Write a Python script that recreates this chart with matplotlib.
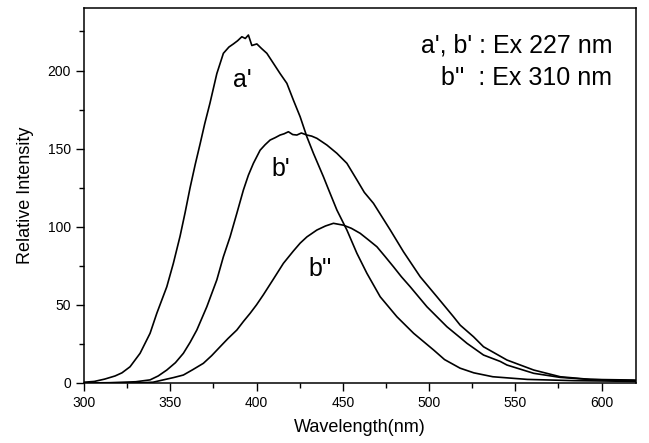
import matplotlib
matplotlib.use("Agg")
import matplotlib.pyplot as plt
from matplotlib.ticker import MultipleLocator

plt.rcParams['font.family'] = ['Liberation Sans', 'DejaVu Sans']

# Curve a' (Ex 227 nm)
a1_x = [300, 306, 312, 318, 322, 326.7, 332.5, 338.3, 342.2, 348, 351.8, 355.7, 358.6, 361.5,
        364.5, 367.3, 370, 373, 377, 380.8, 384, 386.6, 389, 391.5, 393.5, 395.3, 397.3, 400.2,
        403, 406, 409.8, 413.7, 417.6, 421.4, 425.3, 429.2, 433, 438.8, 441.7, 446.6, 452.4,
        458.2, 464, 471.7, 481.4, 491.1, 502.7, 509, 518, 526, 537, 557, 584, 600, 620]
a1_y = [0.5, 1, 2.5, 4.5, 6.5, 10.4, 19, 31.8, 44.6, 61.6, 76.6, 94, 109, 125,
        140, 153, 166, 179, 198, 211, 215, 217, 219, 221.6, 220.5, 222.7, 216, 217,
        214, 211, 204.6, 198, 191.8, 181, 170.4, 157.6, 147, 132, 124, 110.7, 97.9,
        83, 70.2, 55.2, 42.4, 31.8, 21.1, 15, 9.5, 6.5, 4, 2.3, 1.5, 1.3, 1]

# Curve b' (Ex 227 nm)
b1_x = [300, 315, 330, 338.3, 343, 348, 353, 357.6, 361.5, 365.4, 371.2, 377, 380.8, 384.7,
        388.6, 392.4, 395.3, 398.2, 402.1, 405, 407.9, 410.8, 413.7, 416, 418.5, 421, 423.4,
        426, 429.2, 432, 435, 440.8, 446.6, 452.4, 458.2, 462.5, 467.8, 477.5, 485.2, 494.9,
        504.6, 514.2, 518.1, 525.8, 531.6, 545.2, 560.7, 576.1, 593.5, 618.6, 620]
b1_y = [0, 0.2, 0.8, 2, 4.5, 8.3, 13, 19, 26, 33.9, 48.8, 66, 80.8, 93.6,
        108.6, 123.5, 133, 140.6, 149, 152.5, 155.5, 157, 158.7, 159.5, 160.8, 159, 158.7,
        160, 158.7, 158, 156.6, 152.3, 147, 140.6, 130, 122, 115, 98, 84, 68,
        55.2, 42.4, 37, 29.6, 23.2, 14.7, 8.3, 4, 2.3, 1.9, 1.8]

# Curve b'' (Ex 310 nm)
b2_x = [300, 330, 340, 346, 352, 357.6, 363, 369.2, 374, 378.9, 383.5, 388.6, 392.5, 396.3,
        400, 404, 409.8, 415.6, 421.4, 425.3, 429.2, 435, 440, 444.6, 450.4, 455, 460.1, 465,
        469.8, 474.5, 479.4, 484, 489.1, 498.8, 506.5, 510.4, 518.1, 522, 531.6, 541.3, 545.2,
        560.7, 576, 590, 605, 620]
b2_y = [0, 0, 0.5, 2, 3.5, 5.1, 8.5, 12.6, 17.5, 23.2, 28.5, 33.9, 39.5, 44.6,
        50, 56.5, 66.5, 76.6, 84.5, 89.5, 93.5, 97.9, 100.5, 102.2, 101, 99, 95.8, 91.5,
        87.2, 81, 74.4, 68, 61.6, 48.8, 40.3, 36, 29, 25.4, 17.9, 13.8, 11.5,
        6.2, 3.6, 2.5, 1.8, 1.5]

curve_labels = ["a'", "b'", "b''"]
label_pos = [(392, 194), (414, 137), (437, 73)]
legend_lines = ["a', b' : Ex 227 nm", "b''  : Ex 310 nm"]

fig = plt.figure(figsize=(6.49, 4.43), dpi=100)
ax = fig.add_axes([84/649, 1 - 383/443, (636-84)/649, (383-8)/443])

for xs, ys in [(a1_x, a1_y), (b1_x, b1_y), (b2_x, b2_y)]:
    ax.plot(xs, ys, color='black', lw=1.2)

for lab, (lx, ly) in zip(curve_labels, label_pos):
    ax.text(lx, ly, lab, fontsize=18, ha='center', va='center')

ax.text(0.957, 0.901, legend_lines[0], transform=ax.transAxes, fontsize=18,
        ha='right', va='center')
ax.text(0.957, 0.813, legend_lines[1], transform=ax.transAxes, fontsize=18,
        ha='right', va='center')

ax.set_xlim(300, 620)
ax.set_ylim(0, 240)
ax.xaxis.set_major_locator(MultipleLocator(50))
ax.xaxis.set_minor_locator(MultipleLocator(25))
ax.yaxis.set_major_locator(MultipleLocator(50))
ax.yaxis.set_minor_locator(MultipleLocator(25))
ax.tick_params(which='major', direction='out', length=6, width=1, labelsize=10,
               top=False, right=False, colors='black')
ax.tick_params(which='minor', direction='out', length=3.5, width=1,
               top=False, right=False)
for s in ax.spines.values():
    s.set_linewidth(1.1)

ax.set_xlabel("Wavelength(nm)", fontsize=13, labelpad=6)
ax.set_ylabel("Relative Intensity", fontsize=13, labelpad=10)

fig.savefig("out.png", dpi=100)
